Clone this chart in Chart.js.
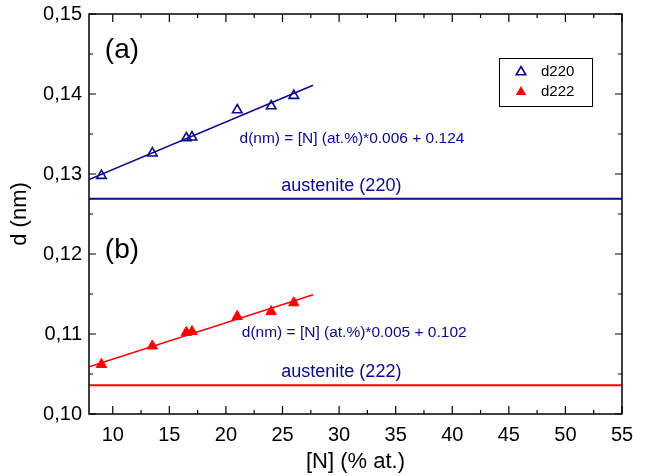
<!DOCTYPE html>
<html>
<head>
<meta charset="utf-8">
<script src="https://cdn.jsdelivr.net/npm/chart.js@4.4.1/dist/chart.umd.min.js"></script>
<style>
  html, body { margin: 0; padding: 0; background: #fff; }
  #wrap { width: 645px; height: 476px; }
</style>
</head>
<body>
<div id="wrap"><canvas id="chart" width="645" height="476"></canvas></div>
<script>
// data
const nitrogen = [9, 13.5, 16.5, 17, 21, 24, 26];
const d220 = [0.1298, 0.1326, 0.1345, 0.1346, 0.1380, 0.1385, 0.1398];
const d222 = [0.1062, 0.1085, 0.1102, 0.1103, 0.1122, 0.1128, 0.1139];

// fitted lines (end points)
const fitX = [7.9, 27.7];
const fit220 = [0.1293, 0.1411];
const fit222 = [0.1059, 0.1149];

// austenite reference levels
const austenite220 = 0.1269;
const austenite222 = 0.1036;

// axes
const xRange = [7.9, 55];
const yRange = [0.10, 0.15];
const xTicks = [10, 15, 20, 25, 30, 35, 40, 45, 50, 55];
const yTicks = [0.10, 0.11, 0.12, 0.13, 0.14, 0.15];

const navy = '#0a0a8a';
const red = '#ff0000';
const font = 'Arial, "Liberation Sans", sans-serif';

const toPts = (xs, ys) => xs.map((x, i) => ({ x: x, y: ys[i] }));

// frame, inner ticks, labels and legend
const decor = {
  id: 'decor',
  afterDraw(chart) {
    const ctx = chart.ctx;
    const a = chart.chartArea;
    const xs = chart.scales.x, ys = chart.scales.y;
    ctx.save();
    ctx.strokeStyle = '#000';
    ctx.lineWidth = 1.5;
    ctx.strokeRect(a.left, a.top, a.right - a.left, a.bottom - a.top);

    const tick = (px, horiz, len) => {
      ctx.beginPath();
      if (horiz) {
        ctx.moveTo(px, a.bottom); ctx.lineTo(px, a.bottom - len);
        ctx.moveTo(px, a.top); ctx.lineTo(px, a.top + len);
      } else {
        ctx.moveTo(a.left, px); ctx.lineTo(a.left + len, px);
        ctx.moveTo(a.right, px); ctx.lineTo(a.right - len, px);
      }
      ctx.stroke();
    };
    ctx.lineWidth = 1.2;
    xTicks.forEach((v, i) => {
      tick(xs.getPixelForValue(v), true, 8);
      if (i < xTicks.length - 1) tick(xs.getPixelForValue((v + xTicks[i + 1]) / 2), true, 4);
    });
    yTicks.forEach((v, i) => {
      tick(ys.getPixelForValue(v), false, 7);
      if (i < yTicks.length - 1) tick(ys.getPixelForValue((v + yTicks[i + 1]) / 2), false, 4);
    });

    // panel labels
    ctx.fillStyle = '#000';
    ctx.textBaseline = 'middle';
    ctx.textAlign = 'left';
    ctx.font = '28px ' + font;
    ctx.fillText('(a)', xs.getPixelForValue(9.3), ys.getPixelForValue(0.1455));
    ctx.fillText('(b)', xs.getPixelForValue(9.3), ys.getPixelForValue(0.1205));

    ctx.fillStyle = navy;
    ctx.font = '15.5px ' + font;
    ctx.fillText('d(nm) = [N] (at.%)*0.006 + 0.124', xs.getPixelForValue(21.2), ys.getPixelForValue(0.1344));
    ctx.fillText('d(nm) = [N] (at.%)*0.005 + 0.102', xs.getPixelForValue(21.4), ys.getPixelForValue(0.1101));
    ctx.textAlign = 'center';
    ctx.font = '18px ' + font;
    ctx.fillText('austenite (220)', xs.getPixelForValue(30.2), ys.getPixelForValue(0.1285));
    ctx.fillText('austenite (222)', xs.getPixelForValue(30.2), ys.getPixelForValue(0.1052));

    // legend box
    ctx.strokeStyle = '#000';
    ctx.lineWidth = 1;
    ctx.strokeRect(499.5, 58.5, 93, 48);
    const tri = (cx, cy, r, fill, color) => {
      ctx.beginPath();
      ctx.moveTo(cx, cy - r);
      ctx.lineTo(cx + r * 0.866, cy + r * 0.5);
      ctx.lineTo(cx - r * 0.866, cy + r * 0.5);
      ctx.closePath();
      if (fill) { ctx.fillStyle = color; ctx.fill(); }
      else { ctx.strokeStyle = color; ctx.lineWidth = 1.6; ctx.stroke(); }
    };
    tri(521, 72, 5.5, false, navy);
    tri(521, 92, 6, true, red);
    ctx.fillStyle = '#000';
    ctx.textAlign = 'left';
    ctx.font = '15px ' + font;
    ctx.fillText('d220', 541, 72);
    ctx.fillText('d222', 541, 92);
    ctx.restore();
  }
};

new Chart(document.getElementById('chart'), {
  type: 'scatter',
  data: {
    datasets: [
      {
        label: 'austenite (220)', type: 'line',
        data: toPts(xRange, [austenite220, austenite220]),
        borderColor: navy, borderWidth: 2, pointRadius: 0
      },
      {
        label: 'austenite (222)', type: 'line',
        data: toPts(xRange, [austenite222, austenite222]),
        borderColor: red, borderWidth: 2, pointRadius: 0
      },
      {
        label: 'fit 220', type: 'line',
        data: toPts(fitX, fit220),
        borderColor: navy, borderWidth: 1.5, pointRadius: 0
      },
      {
        label: 'fit 222', type: 'line',
        data: toPts(fitX, fit222),
        borderColor: red, borderWidth: 1.5, pointRadius: 0
      },
      {
        label: 'd220',
        data: toPts(nitrogen, d220),
        pointStyle: 'triangle', pointRadius: 5.5,
        borderColor: navy, borderWidth: 1.6, backgroundColor: 'rgba(0,0,0,0)'
      },
      {
        label: 'd222',
        data: toPts(nitrogen, d222),
        pointStyle: 'triangle', pointRadius: 6,
        borderColor: red, borderWidth: 1, backgroundColor: red
      }
    ]
  },
  options: {
    responsive: false,
    animation: false,
    devicePixelRatio: 1,
    layout: { padding: { left: 0, top: 14, right: 23, bottom: 0 } },
    plugins: { legend: { display: false }, tooltip: { enabled: false } },
    scales: {
      x: {
        type: 'linear', min: xRange[0], max: xRange[1],
        grid: { display: false, drawTicks: false },
        border: { display: false },
        afterBuildTicks: s => { s.ticks = xTicks.map(v => ({ value: v })); },
        afterFit: s => { s.height = 62; s.paddingLeft = 0; s.paddingRight = 0; },
        ticks: { color: '#000', padding: 9, font: { family: font, size: 20 } },
        title: {
          display: true, text: '[N] (% at.)', color: '#000',
          font: { family: font, size: 22 }, padding: { top: 0, bottom: 1 }
        }
      },
      y: {
        type: 'linear', min: yRange[0], max: yRange[1],
        grid: { display: false, drawTicks: false },
        border: { display: false },
        afterBuildTicks: s => { s.ticks = yTicks.map(v => ({ value: v })); },
        afterFit: s => { s.width = 89; s.paddingTop = 0; s.paddingBottom = 0; },
        ticks: {
          color: '#000', padding: 7, font: { family: font, size: 20 },
          callback: v => v.toFixed(2).replace('.', ',')
        },
        title: {
          display: true, text: 'd (nm)', color: '#000',
          font: { family: font, size: 22 }, padding: { top: 7, bottom: 0 }
        }
      }
    }
  },
  plugins: [decor]
});
</script>
</body>
</html>
